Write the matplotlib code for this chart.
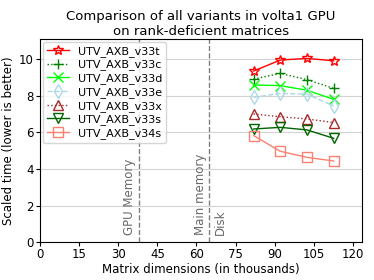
import numpy as np
import matplotlib.pyplot as plt

plt.rcParams.update({'font.size': 8})

# matrix dimensions (thousands)
sizes = [81.92, 92.16, 102.4, 112.64]

v33t = [9.36, 9.96, 10.05, 9.92]
v33c = [8.92, 9.23, 8.89, 8.41]
v33d = [8.60, 8.56, 8.31, 7.81]
v33e = [7.92, 8.14, 8.09, 7.45]
v33x = [7.01, 6.86, 6.74, 6.54]
v33s = [6.19, 6.28, 6.14, 5.68]
v34s = [5.83, 4.97, 4.64, 4.44]

gpu_mem = 38
main_mem = 65

fig, ax = plt.subplots(figsize=(3.74, 2.8), dpi=100)

ms = 7
ax.plot(sizes, v33t, '-', color='red', marker='*', ms=ms, mfc='none', lw=1, label='UTV_AXB_v33t')
ax.plot(sizes, v33c, ':', color='green', marker='+', ms=ms, lw=1, label='UTV_AXB_v33c')
ax.plot(sizes, v33d, '-', color='lime', marker='x', ms=ms, lw=1, label='UTV_AXB_v33d')
ax.plot(sizes, v33e, '--', color='lightblue', marker='d', ms=ms, mfc='none', lw=1, label='UTV_AXB_v33e')
ax.plot(sizes, v33x, ':', color='brown', marker='^', ms=ms, mfc='none', lw=1, label='UTV_AXB_v33x')
ax.plot(sizes, v33s, '-', color='darkgreen', marker='v', ms=ms, mfc='none', lw=1, label='UTV_AXB_v33s')
ax.plot(sizes, v34s, '-', color='salmon', marker='s', ms=ms, mfc='none', lw=1, label='UTV_AXB_v34s')

ax.axvline(gpu_mem, color='gray', ls='--', lw=1)
ax.axvline(main_mem, color='gray', ls='--', lw=1)
ax.text(gpu_mem - 1, 0.4, 'GPU Memory', rotation=90, ha='right', va='bottom', color='dimgray', fontsize=8.5)
ax.text(main_mem - 1, 0.4, 'Main memory', rotation=90, ha='right', va='bottom', color='dimgray', fontsize=8.5)
ax.text(main_mem + 1.5, 0.4, 'Disk', rotation=90, ha='left', va='bottom', color='dimgray', fontsize=8.5)

ax.yaxis.grid(True, color='lightgray', lw=0.8)
ax.set_xlim(0, 123.5)
ax.set_ylim(0, 11.1)
ax.set_xticks(np.arange(0, 121, 15))
ax.set_yticks([0, 2, 4, 6, 8, 10])
ax.tick_params(labelsize=8.5, pad=1.5, length=3)

ax.set_xlabel('Matrix dimensions (in thousands)', fontsize=8.5, labelpad=1)
ax.set_ylabel('Scaled time (lower is better)', fontsize=8.5, labelpad=3)
ax.set_title('Comparison of all variants in volta1 GPU\non rank-deficient matrices', fontsize=9.5, pad=3)
ax.legend(loc='upper left', fontsize=8, labelspacing=0.25, borderpad=0.35, borderaxespad=0.25)

plt.subplots_adjust(left=0.107, right=0.968, top=0.86, bottom=0.135)
plt.savefig('out.png', dpi=100)
